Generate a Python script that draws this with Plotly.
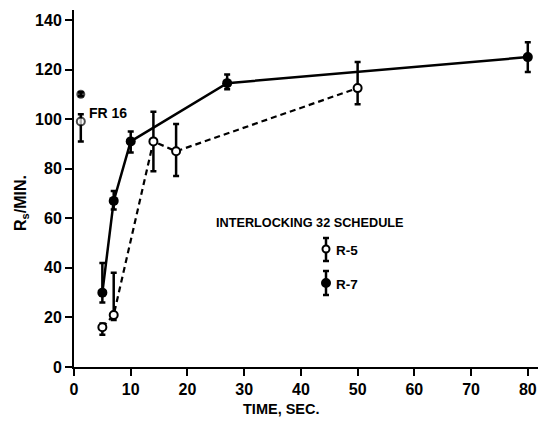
import plotly.graph_objects as go

# ---- data ----
r7_time = [5, 7, 10, 27, 80]
r7_rate = [30, 67, 91, 114.5, 125]
r7_err_up = [12, 4, 4, 3.5, 6]
r7_err_dn = [4, 3.5, 4.5, 2.5, 6]

r5_time = [5, 7, 14, 18, 50]
r5_rate = [16, 21, 91, 87, 112.5]
r5_err_up = [1.5, 17, 12, 11, 10.5]
r5_err_dn = [3, 2, 12, 10, 6.5]

fr16_time = [1.2, 1.2]
fr16_rate = [99, 110]
fr16_err_up = [3, 0.8]
fr16_err_dn = [8, 0.8]

x_ticks = [0, 10, 20, 30, 40, 50, 60, 70, 80]
y_ticks = [0, 20, 40, 60, 80, 100, 120, 140]

FONT = "Liberation Sans"
BLACK = "black"

# plot area geometry (pixels) used for paper-coordinate legend glyphs
L, R, T, B = 74, 14, 10, 59
W, H = 552, 426
PW, PH = W - L - R, H - T - B


def px(xp):
    return (xp - L) / PW


def py(yp):
    return (H - B - yp) / PH


fig = go.Figure()

fig.add_trace(go.Scatter(
    x=r5_time, y=r5_rate, mode="lines+markers", name="R-5",
    line=dict(color=BLACK, width=2.2, dash="6px,4px"),
    marker=dict(symbol="circle", size=8, color="white", line=dict(color=BLACK, width=2)),
    error_y=dict(type="data", symmetric=False, array=r5_err_up, arrayminus=r5_err_dn,
                 color=BLACK, thickness=2.5, width=3),
    showlegend=False,
))

fig.add_trace(go.Scatter(
    x=r7_time, y=r7_rate, mode="lines+markers", name="R-7",
    line=dict(color=BLACK, width=2.5),
    marker=dict(symbol="circle", size=10, color=BLACK),
    error_y=dict(type="data", symmetric=False, array=r7_err_up, arrayminus=r7_err_dn,
                 color=BLACK, thickness=2.5, width=3),
    showlegend=False,
))

fig.add_trace(go.Scatter(
    x=fr16_time, y=fr16_rate, mode="markers", name="FR 16",
    marker=dict(symbol="circle", size=[8, 7], color=["white", BLACK],
                line=dict(color=BLACK, width=2)),
    error_y=dict(type="data", symmetric=False, array=fr16_err_up, arrayminus=fr16_err_dn,
                 color=BLACK, thickness=2.5, width=3),
    showlegend=False,
))

annotations = [
    dict(x=2.3, y=102.5, xref="x", yref="y", text="<b>FR 16</b>", showarrow=False,
         xanchor="left", yanchor="middle", font=dict(family=FONT, size=14, color=BLACK)),
    dict(x=px(214), y=py(223), xref="paper", yref="paper", text="<b>INTERLOCKING 32 SCHEDULE</b>",
         showarrow=False, xanchor="left", yanchor="middle",
         font=dict(family=FONT, size=12.7, color=BLACK)),
    dict(x=px(334), y=py(250), xref="paper", yref="paper", text="<b>R-5</b>",
         showarrow=False, xanchor="left", yanchor="middle",
         font=dict(family=FONT, size=13.5, color=BLACK)),
    dict(x=px(334), y=py(284), xref="paper", yref="paper", text="<b>R-7</b>",
         showarrow=False, xanchor="left", yanchor="middle",
         font=dict(family=FONT, size=13.5, color=BLACK)),
    dict(x=px(281), y=py(409), xref="paper", yref="paper", text="<b>TIME, SEC.</b>",
         showarrow=False, xanchor="center", yanchor="middle",
         font=dict(family=FONT, size=14.5, color=BLACK)),
    dict(x=px(21), y=py(203), xref="paper", yref="paper", text="<b>R<sub>s</sub>/MIN.</b>",
         showarrow=False, xanchor="center", yanchor="middle", textangle=-90,
         font=dict(family=FONT, size=16, color=BLACK)),
]

shapes = []
# legend glyphs: vertical error bar with caps and a circle
for cy, top, bot, filled in [(249, 238, 261, False), (283, 271, 295, True)]:
    cx = 326
    shapes.append(dict(type="line", xref="paper", yref="paper", x0=px(cx), x1=px(cx),
                       y0=py(top), y1=py(bot), line=dict(color=BLACK, width=2.5)))
    for yy in (top, bot):
        shapes.append(dict(type="line", xref="paper", yref="paper", x0=px(cx - 3), x1=px(cx + 3),
                           y0=py(yy), y1=py(yy), line=dict(color=BLACK, width=2.5)))
    r = 4 if filled else 3.5
    shapes.append(dict(type="circle", xref="paper", yref="paper",
                       x0=px(cx - r), x1=px(cx + r), y0=py(cy - r), y1=py(cy + r),
                       fillcolor=BLACK if filled else "white",
                       line=dict(color=BLACK, width=2)))

fig.update_layout(
    width=W, height=H,
    margin=dict(l=L, r=R, t=T, b=B, pad=0),
    paper_bgcolor="white", plot_bgcolor="white",
    font=dict(family=FONT, size=16, color=BLACK),
    annotations=annotations, shapes=shapes,
    xaxis=dict(range=[0, 81.8], tickvals=x_ticks, ticktext=[f"<b>{v}</b>" for v in x_ticks],
               showgrid=False, zeroline=False, showline=True, linecolor=BLACK, linewidth=2,
               ticks="outside", ticklen=7, tickwidth=2, tickcolor=BLACK,
               tickfont=dict(family=FONT, size=16, color=BLACK)),
    yaxis=dict(range=[0, 144], tickvals=y_ticks, ticktext=[f"<b>{v}</b>" for v in y_ticks],
               showgrid=False, zeroline=False, showline=True, linecolor=BLACK, linewidth=2,
               ticks="outside", ticklen=7, tickwidth=2, tickcolor=BLACK,
               tickfont=dict(family=FONT, size=16, color=BLACK)),
)

fig.write_html("out.html")
